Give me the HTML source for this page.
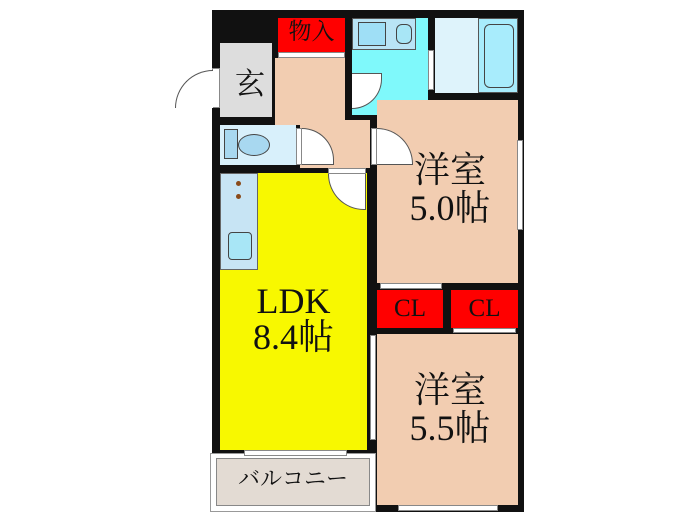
<!DOCTYPE html>
<html><head><meta charset="utf-8"><style>
body{margin:0;width:700px;height:525px;background:#fff;position:relative;overflow:hidden;font-family:"Liberation Serif","Noto Serif CJK SC",serif}
div{position:absolute;box-sizing:border-box}
.t{color:#111;text-align:center;line-height:1}
</style></head><body>
<div style="left:212px;top:10px;width:312px;height:502px;background:#111"></div>
<div style="left:210px;top:453px;width:166px;height:59px;background:#fff;border:1px solid #999"></div>
<div style="left:216px;top:458px;width:154px;height:48px;background:#e3dbd3;border:1px solid #888"></div>
<div style="left:278px;top:18px;width:67px;height:34px;background:#f00"></div>
<div style="left:278px;top:52px;width:67px;height:6px;background:#fff;border:1px solid #888"></div>
<div style="left:220px;top:43px;width:52px;height:74px;background:#ddd"></div>
<div style="left:212px;top:68px;width:8px;height:40px;background:#fff;border:1px solid #888"></div>
<div style="left:175px;top:70px;width:38px;height:38px;border:1px solid #555;border-bottom:none;border-right:none;border-radius:38px 0 0 0;background:#fff"></div>
<div style="left:275px;top:58px;width:70px;height:67px;background:#f2cdb1"></div>
<div style="left:300px;top:120px;width:70px;height:48px;background:#f2cdb1"></div>
<div style="left:352px;top:18px;width:76px;height:97px;background:#7ff9fb"></div>
<div style="left:352px;top:18px;width:64px;height:32px;background:#b9e4f5;border:1px solid #555"></div>
<div style="left:358px;top:22px;width:28px;height:24px;background:#9fdff6;border:1px solid #444"></div>
<div style="left:396px;top:24px;width:16px;height:20px;background:#a8e6f6;border:1px solid #444;border-radius:6px"></div>
<div style="left:352px;top:73px;width:30px;height:36px;border:1px solid #555;border-left:none;border-radius:0 0 36px 0;background:#fff"></div>
<div style="left:435px;top:18px;width:83px;height:75px;background:#def3fb"></div>
<div style="left:478px;top:18px;width:40px;height:75px;background:#a8ecfc;border:1px solid #555"></div>
<div style="left:484px;top:24px;width:30px;height:64px;background:#a8ecfc;border:1px solid #444;border-radius:6px"></div>
<div style="left:428px;top:50px;width:6px;height:40px;background:#fff;border:1px solid #888"></div>
<div style="left:220px;top:125px;width:76px;height:40px;background:#d8f0fb"></div>
<div style="left:224px;top:129px;width:14px;height:30px;background:#a8d8f0;border:1px solid #444"></div>
<div style="left:238px;top:134px;width:32px;height:22px;background:#a8d8f0;border:1px solid #444;border-radius:50%"></div>
<div style="left:296px;top:128px;width:6px;height:37px;background:#fff;border:1px solid #888"></div>
<div style="left:302px;top:128px;width:32px;height:37px;border:1px solid #555;border-left:none;border-radius:0 37px 0 0;background:#fff"></div>
<div style="left:377px;top:100px;width:141px;height:183px;background:#f2cdb1"></div>
<div style="left:371px;top:128px;width:6px;height:37px;background:#fff;border:1px solid #888"></div>
<div style="left:377px;top:128px;width:36px;height:37px;border:1px solid #555;border-left:none;border-radius:0 37px 0 0;background:#fff"></div>
<div style="left:517px;top:140px;width:6px;height:90px;background:#fff;border:1px solid #888"></div>
<div style="left:380px;top:283px;width:62px;height:6px;background:#fff;border:1px solid #888"></div>
<div style="left:377px;top:290px;width:66px;height:38px;background:#f00"></div>
<div style="left:451px;top:290px;width:67px;height:38px;background:#f00"></div>
<div style="left:453px;top:328px;width:63px;height:5px;background:#fff;border:1px solid #888"></div>
<div style="left:377px;top:334px;width:141px;height:171px;background:#f2cdb1"></div>
<div style="left:370px;top:335px;width:6px;height:105px;background:#fff;border:1px solid #888"></div>
<div style="left:398px;top:505px;width:100px;height:6px;background:#fff;border:1px solid #888"></div>
<div style="left:220px;top:173px;width:147px;height:277px;background:#f8f800"></div>
<div style="left:220px;top:173px;width:38px;height:97px;background:#c7e4f4;border:1px solid #666"></div>
<div style="left:236px;top:181px;width:5px;height:5px;background:#8a4a1a;border-radius:50%"></div>
<div style="left:236px;top:194px;width:5px;height:5px;background:#8a4a1a;border-radius:50%"></div>
<div style="left:228px;top:232px;width:24px;height:28px;background:#a8e6f6;border:1px solid #444;border-radius:4px"></div>
<div style="left:328px;top:168px;width:38px;height:6px;background:#fff;border:1px solid #888"></div>
<div style="left:328px;top:174px;width:38px;height:36px;border:1px solid #555;border-top:none;border-radius:0 0 0 38px;background:#fff"></div>
<div style="left:244px;top:450px;width:103px;height:6px;background:#fff;border:1px solid #888"></div>
<div class="t" style="left:228px;top:70px;width:44px;font-size:30px">玄</div>
<div class="t" style="left:278px;top:20px;width:67px;font-size:23px">物入</div>
<div class="t" style="left:380px;top:152px;width:140px;font-size:36px;line-height:1.05">洋室<br>5.0帖</div>
<div class="t" style="left:220px;top:283px;width:147px;font-size:36px">LDK<br>8.4帖</div>
<div class="t" style="left:380px;top:372px;width:140px;font-size:36px;line-height:1.05">洋室<br>5.5帖</div>
<div class="t" style="left:377px;top:296px;width:66px;font-size:25px">CL</div>
<div class="t" style="left:451px;top:296px;width:67px;font-size:25px">CL</div>
<div class="t" style="left:216px;top:468px;width:154px;font-size:22px;font-family:'Liberation Serif','Noto Serif CJK SC',serif">バルコニー</div>
</body></html>
